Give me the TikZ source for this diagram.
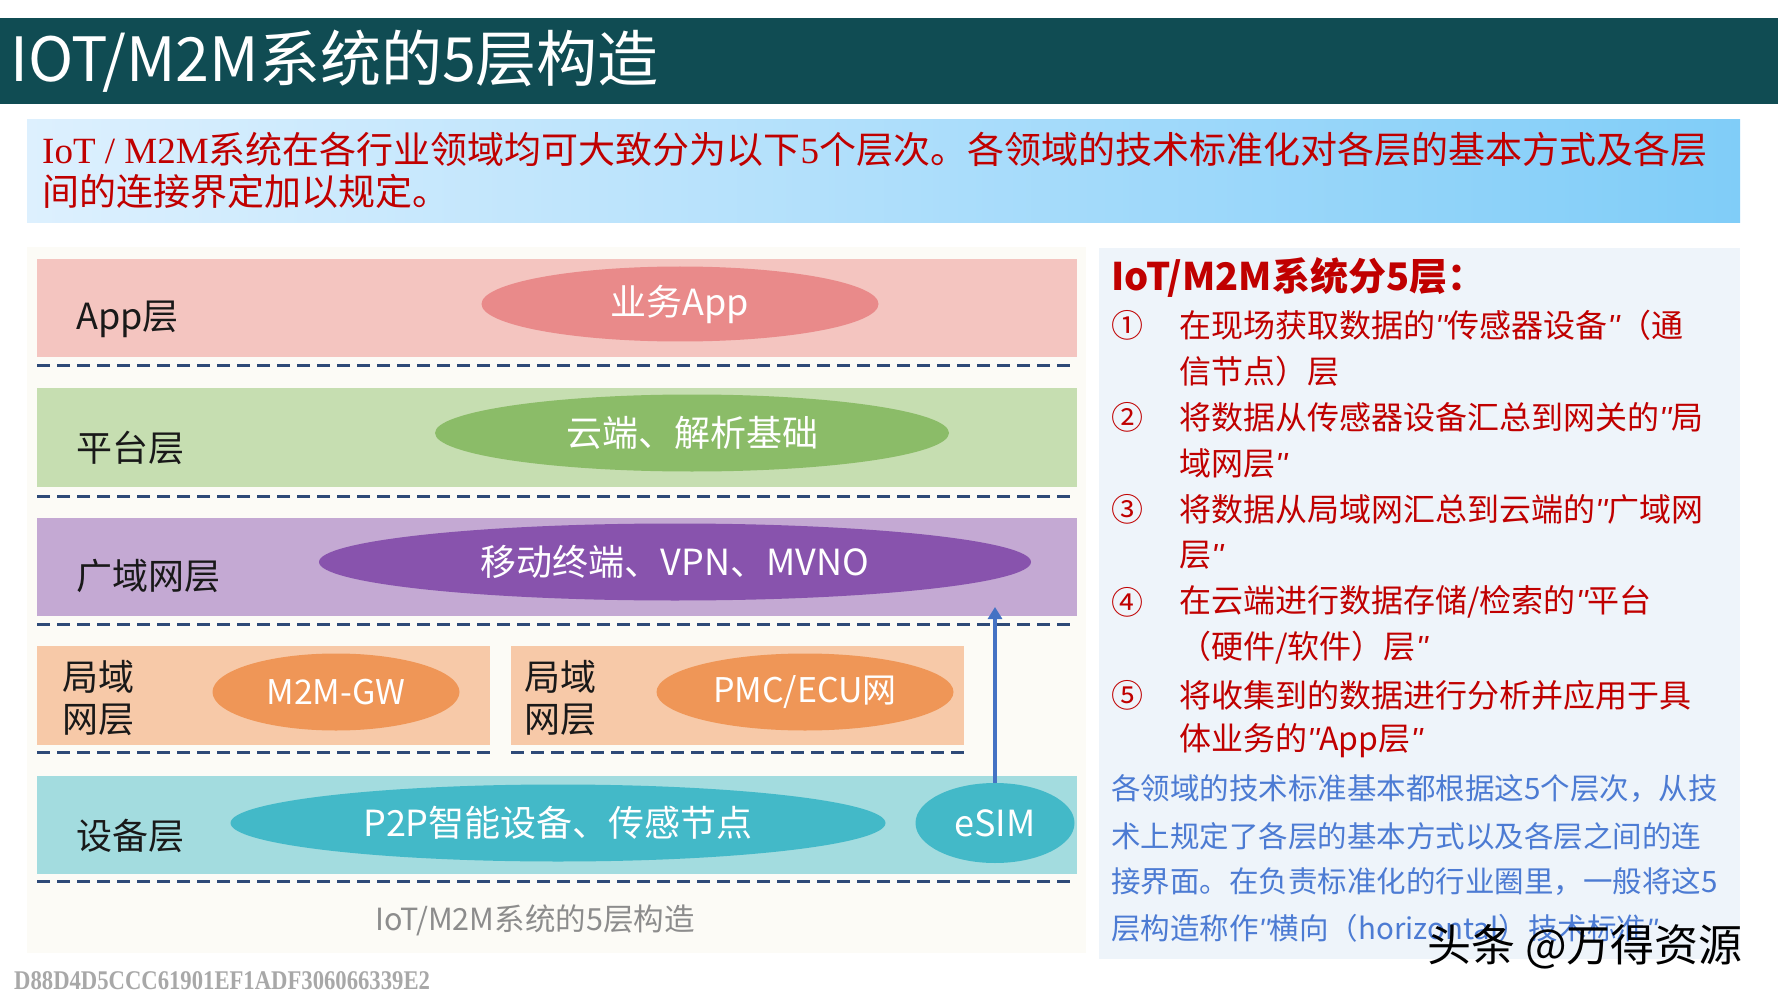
\documentclass[tikz,border=0pt]{standalone}
\usepackage{fontspec}
\usepackage{graphicx}
\setmainfont{Noto Sans CJK SC}
\newfontfamily\lserif{Liberation Serif}
\newfontfamily\lsans{Liberation Sans}
\usetikzlibrary{shapes.geometric,arrows.meta}
\newcommand\fs[1]{\fontsize{#1}{#1}\selectfont}
\newcommand\myoq{{\lsans\itshape ''}}
\newcommand\mycq{{\lsans\itshape ''}}
\definecolor{titlebg}{HTML}{104C53}
\definecolor{redtxt}{HTML}{C00000}
\definecolor{sub1}{HTML}{DDF0FE}
\definecolor{sub2}{HTML}{B3E1FD}
\definecolor{sub3}{HTML}{80CDF8}
\definecolor{leftbg}{HTML}{FCFBF6}
\definecolor{rightbg}{HTML}{EEF4FA}
\definecolor{appB}{HTML}{F4C5C0}
\definecolor{appE}{HTML}{E98A8A}
\definecolor{platB}{HTML}{C6DEB1}
\definecolor{platE}{HTML}{8BBC68}
\definecolor{wanB}{HTML}{C4A9D3}
\definecolor{wanE}{HTML}{8853AD}
\definecolor{lanB}{HTML}{F7C9A8}
\definecolor{lanE}{HTML}{EF9657}
\definecolor{devB}{HTML}{A3DCDF}
\definecolor{devE}{HTML}{43B9C8}
\definecolor{dashc}{HTML}{2E4A78}
\definecolor{arrowc}{HTML}{4472C4}
\definecolor{bluetxt}{HTML}{4C7BD3}
\definecolor{capgray}{HTML}{8C8C8C}
\definecolor{hashgray}{HTML}{A8A8A8}
\begin{document}
\begin{tikzpicture}[x=1pt,y=-1pt,
  ell/.style={ellipse, draw=none, text=white, inner sep=0pt, font=\fs{36}},
  lay/.style={anchor=west, inner sep=0pt, text=black!90, font=\fs{36}},
  laydash/.style={draw=dashc, line width=3pt, dash pattern=on 13pt off 7pt},
  item/.style={anchor=west, inner sep=0pt, text=redtxt, font=\fs{32}},
  para/.style={anchor=west, inner sep=0pt, text=bluetxt, font=\fs{29.5}}]
\useasboundingbox (0,0) rectangle (1778,1000);
\fill[white] (0,0) rectangle (1778,1000);
% title bar
\fill[titlebg] (0,18) rectangle (1778,104);
\node[anchor=west, inner sep=0pt, text=white, font=\fs{61}] (title) at (10,61) {IOT/M2M系统的5层构造};
% subtitle
\shade[left color=sub1, middle color=sub2, right color=sub3] (27,120) rectangle (1740,223);
\node[anchor=west, inner sep=0pt, text=redtxt, font=\fs{37}] (sub1) at (42,149) {{\lserif IoT / M2M}系统在各行业领域均可大致分为以下{\lserif 5}个层次。各领域的技术标准化对各层的基本方式及各层};
\node[anchor=west, inner sep=0pt, text=redtxt, font=\fs{37}] (sub2) at (42,191) {间的连接界定加以规定。};
% left panel
\fill[leftbg] (27,247) rectangle (1086,953);
\fill[appB] (37,259) rectangle (1077,357);
\fill[platB] (37,388) rectangle (1077,487);
\fill[wanB] (37,518) rectangle (1077,616);
\fill[lanB] (37,646) rectangle (490,745);
\fill[lanB] (511,646) rectangle (964,745);
\fill[devB] (37,776) rectangle (1077,874);
\draw[laydash] (37,365) -- (1077,365);
\draw[laydash] (37,496) -- (1077,496);
\draw[laydash] (37,624) -- (1077,624);
\draw[laydash] (37,752) -- (490,752);
\draw[laydash] (511,752) -- (964,752);
\draw[laydash] (37,881) -- (1077,881);
% ellipses
\node[ell, fill=appE, minimum width=397, minimum height=75] (eapp) at (680,304) {业务App};
\node[ell, fill=platE, minimum width=514, minimum height=77] (eplat) at (692,433) {云端、解析基础};
\node[ell, fill=wanE, minimum width=712, minimum height=77] (ewan) at (675,562) {移动终端、VPN、MVNO};
\node[ell, fill=lanE, minimum width=247, minimum height=77, font=\fs{34}] (egw) at (336,692) {M2M-GW};
\node[ell, fill=lanE, minimum width=297, minimum height=77, font=\fs{34}] (eecu) at (805,692) {PMC/ECU网};
\node[ell, fill=devE, minimum width=655, minimum height=77] (edev) at (558,823) {P2P智能设备、传感节点};
\node[ell, fill=devE, minimum width=159, minimum height=80] (esim) at (995,823) {eSIM};
\coordinate (atop) at (995,607);
\draw[arrowc, line width=4.5pt, -{Triangle[length=12pt,width=14pt]}] (esim.north) -- (atop);
% layer labels
\node[lay] (lapp) at (76,319) {App层};
\node[lay] (lplat) at (76,448) {平台层};
\node[lay] (lwan) at (76,576) {广域网层};
\node[lay, align=left, font=\fontsize{36}{42}\selectfont] (llan1) at (62,698) {局域\\网层};
\node[lay, align=left, font=\fontsize{36}{42}\selectfont] (llan2) at (524,698) {局域\\网层};
\node[lay] (ldev) at (76,836) {设备层};
\node[inner sep=0pt, text=capgray, font=\fs{30.5}] (cap) at (535,920) {IoT/M2M系统的5层构造};
% right panel
\fill[rightbg] (1099,248) rectangle (1740,959);
\node[anchor=west, inner sep=0pt, text=redtxt, font=\bfseries\fs{38}] (head) at (1111,277) {IoT/M2M系统分5层：};
\node[item] (n1) at (1111,325) {①};
\node[item] (t1a) at (1179,325) {在现场获取数据的\myoq 传感器设备\mycq（通};
\node[item] (t1b) at (1179,371) {信节点）层};
\node[item] (n2) at (1111,417) {②};
\node[item] (t2a) at (1179,417) {将数据从传感器设备汇总到网关的\myoq 局};
\node[item] (t2b) at (1179,463) {域网层\mycq};
\node[item] (n3) at (1111,509) {③};
\node[item] (t3a) at (1179,509) {将数据从局域网汇总到云端的\myoq 广域网};
\node[item] (t3b) at (1179,555) {层\mycq};
\node[item] (n4) at (1111,602) {④};
\node[item] (t4a) at (1179,602) {在云端进行数据存储/检索的\myoq 平台};
\node[item] (t4b) at (1179,648) {（硬件/软件）层\mycq};
\node[item] (n5) at (1111,695) {⑤};
\node[item] (t5a) at (1179,695) {将收集到的数据进行分析并应用于具};
\node[item] (t5b) at (1179,741) {体业务的\myoq App层\mycq};
\node[para] (p1) at (1111,789) {各领域的技术标准基本都根据这5个层次，从技};
\node[para] (p2) at (1111,836) {术上规定了各层的基本方式以及各层之间的连};
\node[para] (p3) at (1111,882) {接界面。在负责标准化的行业圈里，一般将这5};
\node[para] (p4) at (1111,928) {层构造称作\myoq 横向（horizontal）技术标准\mycq};
% overlays
\node[inner sep=0pt, text=black, font=\fs{44}] (wm) at (1585,947) {头条 @万得资源};
\node[anchor=west, inner sep=0pt, text=hashgray, font=\lserif\bfseries\fs{27}] (hash) at (14,981) {\scalebox{0.84}[1]{D88D4D5CCC61901EF1ADF306066339E2}};
\end{tikzpicture}
\end{document}
